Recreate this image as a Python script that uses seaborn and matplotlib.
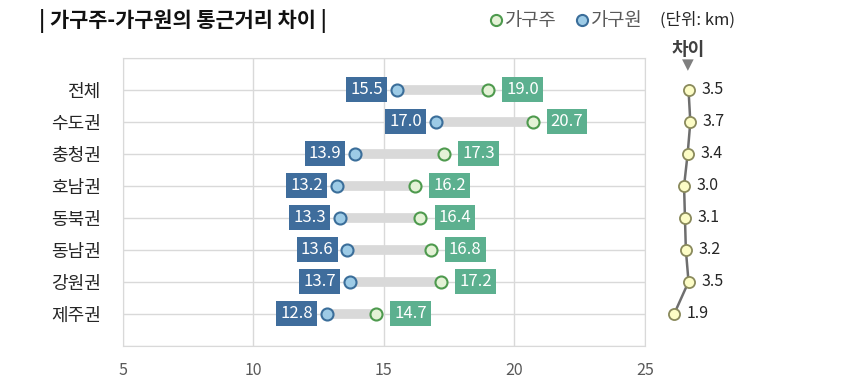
import numpy as np
import pandas as pd
import matplotlib.pyplot as plt
import seaborn as sns
from matplotlib.lines import Line2D

sns.set_style("white")
plt.rcParams['font.family'] = ['Noto Sans CJK KR', 'DejaVu Sans']

regions = ["전체", "수도권", "충청권", "호남권", "동북권", "동남권", "강원권", "제주권"]
head = [19.0, 20.7, 17.3, 16.2, 16.4, 16.8, 17.2, 14.7]     # 가구주
member = [15.5, 17.0, 13.9, 13.2, 13.3, 13.6, 13.7, 12.8]   # 가구원
diff = [3.5, 3.7, 3.4, 3.0, 3.1, 3.2, 3.5, 1.9]
xticks = [5, 10, 15, 20, 25]

df = pd.DataFrame({"region": regions, "head": head, "member": member, "diff": diff})
df["pos"] = np.arange(1, len(regions) + 1)

blue_box = "#3f6d9c"
green_box = "#5cb08f"

fig = plt.figure(figsize=(8.57, 3.89), dpi=100)
ax = fig.add_axes([0.1435, 0.111, 0.609, 0.740])
ax2 = fig.add_axes([0.770, 0.111, 0.117, 0.740])

# connectors
ax.hlines(df["pos"], df["member"], df["head"], color="#d9d9d9", lw=7, zorder=2)

sns.scatterplot(data=df, x="member", y="pos", ax=ax, s=75, color="#9dcbe6",
                edgecolor="#3b6e9a", linewidth=1.5, zorder=3, legend=False)
sns.scatterplot(data=df, x="head", y="pos", ax=ax, s=75, color="#e4f2d6",
                edgecolor="#4e9a4e", linewidth=1.5, zorder=3, legend=False)

for _, r in df.iterrows():
    ax.annotate(f"{r['member']:.1f}", (r["member"], r["pos"]), xytext=(-10, 0),
                textcoords="offset points", ha="right", va="center", color="white",
                fontsize=12, zorder=4,
                bbox=dict(boxstyle="square,pad=0.24", fc=blue_box, ec="none"))
    ax.annotate(f"{r['head']:.1f}", (r["head"], r["pos"]), xytext=(13, 0),
                textcoords="offset points", ha="left", va="center", color="white",
                fontsize=12, zorder=4,
                bbox=dict(boxstyle="square,pad=0.24", fc=green_box, ec="none"))

ax.set_xlim(5, 25)
ax.set_ylim(9, 0)
ax.set_xticks(xticks)
ax.set_yticks(list(range(0, 10)))
ax.set_yticklabels([""] + regions + [""])
ax.grid(True, color="#d9d9d9", lw=1)
ax.set_axisbelow(True)
for s in ax.spines.values():
    s.set_color("#d9d9d9")
ax.tick_params(axis="y", length=0, pad=16, labelsize=13, labelcolor="#262626")
ax.tick_params(axis="x", length=0, pad=12, labelsize=11.5, labelcolor="#595959")
ax.set_xlabel("")
ax.set_ylabel("")

# difference panel
sns.lineplot(data=df, x="diff", y="pos", ax=ax2, sort=False, estimator=None,
             color="#6e6e6e", lw=1.8, marker="o", markersize=8,
             markerfacecolor="#fdfdc6", markeredgecolor="#8a8a5c", markeredgewidth=1.3)
for _, r in df.iterrows():
    ax2.annotate(f"{r['diff']:.1f}", (r["diff"], r["pos"]), xytext=(9, 0),
                 textcoords="offset points", ha="left", va="center",
                 fontsize=11.5, color="#262626")
ax2.set_xlim(0.3, 11.5)
ax2.set_ylim(9, 0)
ax2.axis("off")

fig.text(0.803, 0.874, "차이", ha="center", va="center", fontsize=13, weight="bold", color="#404040")
fig.text(0.803, 0.833, "▼", ha="center", va="center", fontsize=11, color="#7f7f7f",
         family=["DejaVu Sans"])

fig.text(0.045, 0.945, "| 가구주-가구원의 통근거리 차이 |", ha="left", va="center",
         fontsize=15, weight="bold", color="#111111")

handles = [Line2D([], [], ls="", marker="o", markersize=8, markerfacecolor="#e4f2d6",
                  markeredgecolor="#4e9a4e", markeredgewidth=1.5),
           Line2D([], [], ls="", marker="o", markersize=8, markerfacecolor="#9dcbe6",
                  markeredgecolor="#3b6e9a", markeredgewidth=1.5)]
fig.legend(handles, ["가구주", "가구원"], loc="center", bbox_to_anchor=(0.66, 0.947),
           ncol=2, frameon=False, fontsize=13.5, handletextpad=0.05, columnspacing=1.0,
           handlelength=0.8, labelcolor="#595959")
fig.text(0.770, 0.947, "(단위: km)", ha="left", va="center", fontsize=12, color="#262626")

fig.savefig("out.png", dpi=100)
